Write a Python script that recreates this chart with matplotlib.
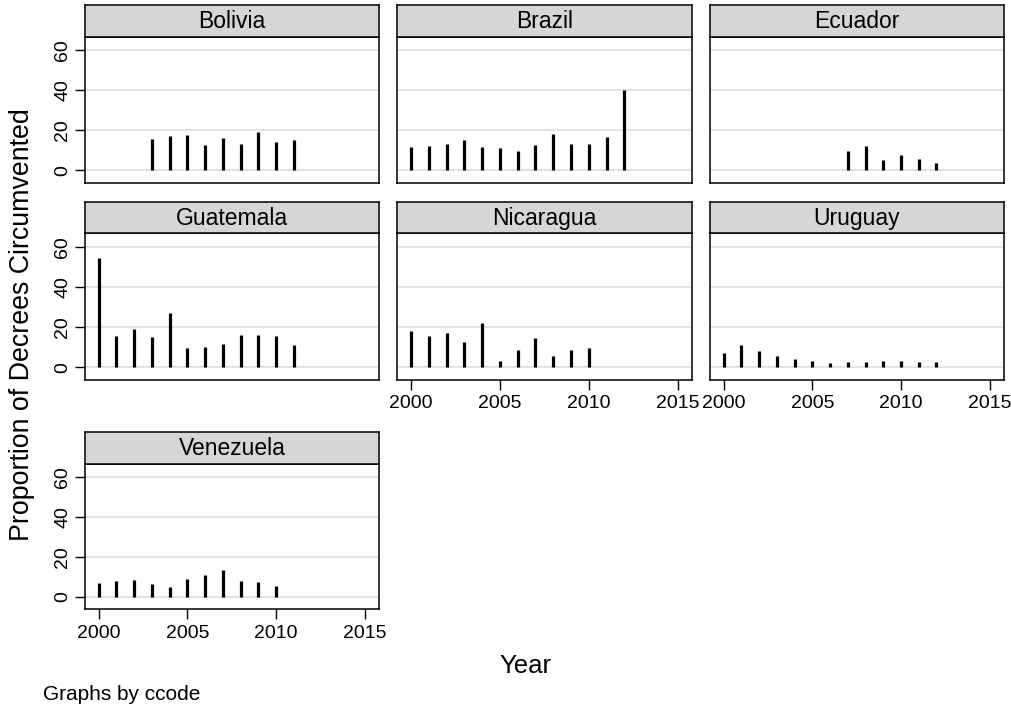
import matplotlib
matplotlib.use("Agg")
import matplotlib.pyplot as plt

plt.rcParams['font.family'] = ['Liberation Sans', 'DejaVu Sans']

# Proportion of decrees circumvented, by country and year
bolivia_years = [2003, 2004, 2005, 2006, 2007, 2008, 2009, 2010, 2011]
bolivia_vals = [15.7, 17.0, 17.8, 12.7, 16.2, 13.2, 19.2, 14.3, 15.3]

brazil_years = [2000, 2001, 2002, 2003, 2004, 2005, 2006, 2007, 2008, 2009, 2010, 2011, 2012]
brazil_vals = [11.8, 12.0, 13.0, 15.2, 11.5, 11.2, 9.8, 12.8, 18.2, 13.3, 13.0, 16.5, 40.0]

ecuador_years = [2007, 2008, 2009, 2010, 2011, 2012]
ecuador_vals = [9.5, 12.3, 5.3, 7.5, 5.8, 3.7]

guatemala_years = [2000, 2001, 2002, 2003, 2004, 2005, 2006, 2007, 2008, 2009, 2010, 2011]
guatemala_vals = [54.2, 15.7, 19.0, 15.0, 27.0, 9.7, 10.2, 11.7, 16.2, 16.3, 15.7, 11.3]

nicaragua_years = [2000, 2001, 2002, 2003, 2004, 2005, 2006, 2007, 2008, 2009, 2010]
nicaragua_vals = [18.2, 15.5, 17.3, 12.5, 22.3, 3.3, 8.7, 14.7, 5.8, 8.8, 9.8]

uruguay_years = [2000, 2001, 2002, 2003, 2004, 2005, 2006, 2007, 2008, 2009, 2010, 2011, 2012]
uruguay_vals = [7.2, 11.3, 8.3, 5.7, 4.0, 3.2, 2.0, 2.7, 2.7, 3.0, 3.3, 2.7, 2.7]

venezuela_years = [2000, 2001, 2002, 2003, 2004, 2005, 2006, 2007, 2008, 2009, 2010]
venezuela_vals = [6.7, 7.7, 8.2, 6.3, 4.7, 8.8, 10.8, 13.3, 7.8, 7.3, 5.2]

countries = ["Bolivia", "Brazil", "Ecuador", "Guatemala", "Nicaragua", "Uruguay", "Venezuela"]
years = [bolivia_years, brazil_years, ecuador_years, guatemala_years,
         nicaragua_years, uruguay_years, venezuela_years]
values = [bolivia_vals, brazil_vals, ecuador_vals, guatemala_vals,
          nicaragua_vals, uruguay_vals, venezuela_vals]

y_ticks = [0, 20, 40, 60]
x_ticks = [2000, 2005, 2010, 2015]

W, H = 1011, 708
fig = plt.figure(figsize=(W / 100, H / 100), dpi=100)
fig.patch.set_facecolor("white")

# panel geometry in pixels (left, right) and (strip top, plot top, plot bottom)
cols = [(85, 379), (397.3, 691.7), (710, 1003.7)]
rows = [(5, 37, 183), (202.3, 233.3, 380), (432.3, 464, 609.3)]

def px_rect(x0, x1, y0, y1):
    return [x0 / W, 1 - y1 / H, (x1 - x0) / W, (y1 - y0) / H]

# which panels show x tick labels / y tick labels
show_x = {"Nicaragua", "Uruguay", "Venezuela"}
show_y = {"Bolivia", "Guatemala", "Venezuela"}

for i, name in enumerate(countries):
    r, c = divmod(i, 3)
    x0, x1 = cols[c]
    st, pt, pb = rows[r]

    ax = fig.add_axes(px_rect(x0, x1, pt, pb))
    ax.set_xlim(1999.23, 2015.79)
    ax.set_ylim(-6.3, 66.7)
    for yv in y_ticks:
        ax.axhline(yv, color="#e1e1e1", lw=1.3, zorder=0)
    ax.vlines(years[i], 0, values[i], color="black", lw=2.3, zorder=2)
    for s in ax.spines.values():
        s.set_linewidth(1.1)
        s.set_color("black")

    ax.set_yticks(y_ticks)
    ax.set_xticks(x_ticks)
    if name in show_y:
        ax.tick_params(axis="y", length=7, width=1.0, pad=3, labelsize=14)
        ax.set_yticklabels([str(v) for v in y_ticks], rotation=90, va="center")
    else:
        ax.tick_params(axis="y", length=0, labelleft=False)
    if name in show_x:
        ax.tick_params(axis="x", length=7, width=1.0, pad=4, labelsize=14)
    else:
        ax.tick_params(axis="x", length=0, labelbottom=False)

    sax = fig.add_axes(px_rect(x0, x1, st, pt))
    sax.set_facecolor("#d6d6d6")
    sax.set_xticks([])
    sax.set_yticks([])
    for s in sax.spines.values():
        s.set_linewidth(1.1)
        s.set_color("black")
    sax.text(0.5, 0.48, name, ha="center", va="center", fontsize=16.5,
             transform=sax.transAxes)

fig.text(22 / W, 1 - 325 / H, "Proportion of Decrees Circumvented", rotation=90,
         ha="center", va="center", fontsize=19.3)
fig.text(525 / W, 1 - 666 / H, "Year", ha="center", va="center", fontsize=18.5)
fig.text(43 / W, 1 - 695 / H, "Graphs by ccode", ha="left", va="center", fontsize=15)

fig.savefig("out.png", dpi=100, facecolor="white")
